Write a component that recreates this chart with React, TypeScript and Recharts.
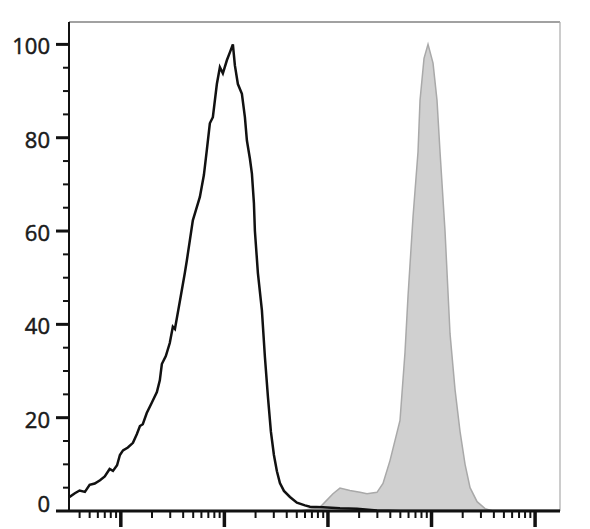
import { ComposedChart, Area, Line, XAxis, YAxis, ReferenceLine } from "recharts";

// fluorescence intensity (log axis) vs % of max
const controlX = [
  32, 36, 40, 45, 50, 56, 63, 70, 78, 84, 92, 98, 105, 117, 131, 143, 153, 163, 178, 199,
  223, 238, 249, 272, 297, 318, 333, 372, 415, 434, 464, 496, 531, 580, 634, 678, 724, 774,
  846, 905, 967, 1057, 1130, 1208, 1263, 1350, 1476, 1578, 1650, 1764, 1844, 1928, 1971,
  2107, 2303, 2462, 2632, 2813, 3008, 3215, 3437, 3758, 4296, 5017, 5995, 6700, 8946,
  13060, 19070, 29740, 49620, 1740000,
];
const controlY = [
  3.0, 3.8, 4.4, 4.1, 5.6, 5.9, 6.6, 7.4, 9.0, 8.6, 9.8, 12.0, 13.0, 13.6, 14.6, 16.5, 18.2,
  18.6, 21.0, 23.2, 25.5, 28.0, 31.5, 33.2, 36.0, 39.5, 39.0, 45.0, 51.0, 53.7, 58.0, 62.3,
  64.5, 67.3, 72.0, 77.5, 83.1, 84.4, 91.5, 95.1, 93.8, 96.6, 98.3, 100, 95.5, 91.5, 89.4,
  84.4, 79.4, 75.5, 72.3, 66.0, 60.0, 51.0, 43.0, 33.0, 24.5, 17.0, 12.0, 8.5, 6.0, 4.3,
  3.0, 1.8, 1.2, 0.9, 0.8, 0.6, 0.5, 0.1, 0, 0,
];

const stainedX = [
  5363, 8370, 9354, 11180, 13060, 16320, 20380, 23820, 29740, 34000, 39720, 49620, 55460,
  59290, 66270, 74070, 77440, 84650, 92520, 103400, 113000, 120800, 135000, 150900, 168700,
  188600, 210800, 235500, 275300, 328800, 392900,
];
const stainedY = [
  0, 0.8, 1.9, 3.7, 4.9, 4.4, 4.0, 3.7, 4.0, 5.9, 10.8, 19.4, 34, 46, 63, 77, 88, 97, 100,
  96, 88, 77, 60, 38, 26, 17, 10, 5, 2, 0.5, 0,
];

const xMajorTicks = [100, 1000, 10000, 100000, 1000000];
const xMinorTicks = [
  40, 50, 60, 70, 80, 90,
  200, 300, 400, 500, 600, 700, 800, 900,
  2000, 3000, 4000, 5000, 6000, 7000, 8000, 9000,
  20000, 30000, 40000, 50000, 60000, 70000, 80000, 90000,
  200000, 300000, 400000, 500000, 600000, 700000, 800000, 900000,
];
const yTicks = [0, 5, 10, 15, 20, 25, 30, 35, 40, 45, 50, 55, 60, 65, 70, 75, 80, 85, 90, 95, 100];
const yLabels = [0, 20, 40, 60, 80, 100];

const X_MIN = 31.6;
const X_MAX = 1740000;
const Y_MAX = 104.8;

const controlData = controlX.map((x, i) => ({ x, y: controlY[i] }));
const stainedData = stainedX.map((x, i) => ({ x, y: stainedY[i] }));
const xTicks = [...xMajorTicks, ...xMinorTicks].sort((a, b) => a - b);

const XTick = (props: any) => {
  const { x, y, payload } = props;
  const major = xMajorTicks.includes(payload.value);
  return (
    <line
      x1={x}
      x2={x}
      y1={y}
      y2={y + (major ? 16 : 7)}
      stroke="#111"
      strokeWidth={major ? 3.5 : 2}
    />
  );
};

const YTick = (props: any) => {
  const { x, y, payload } = props;
  const major = yLabels.includes(payload.value);
  return (
    <g>
      <line x1={x - (major ? 13 : 6)} x2={x} y1={y} y2={y} stroke="#111" strokeWidth={major ? 3 : 2} />
      {major && (
        <text
          x={x - 19}
          y={y}
          dy={payload.value === 0 ? 1 : 10}
          textAnchor="end"
          fontSize={22}
          fontFamily="'Open Sans', sans-serif"
          fill="#1a1a1a"
          stroke="#1a1a1a"
          strokeWidth={0.5}
        >
          {payload.value}
        </text>
      )}
    </g>
  );
};

export default function App() {
  return (
    <div style={{ position: "absolute", left: 0, top: 0, background: "#fff" }}>
      <ComposedChart width={590} height={529} margin={{ top: 22, right: 30, bottom: 0, left: 0 }}>
        <XAxis
          dataKey="x"
          type="number"
          scale="log"
          domain={[X_MIN, X_MAX]}
          allowDataOverflow
          ticks={xTicks}
          interval={0}
          tick={<XTick />}
          tickLine={false}
          tickSize={0}
          tickMargin={0}
          axisLine={{ stroke: "#111", strokeWidth: 3 }}
          height={18}
        />
        <YAxis
          type="number"
          domain={[0, Y_MAX]}
          allowDataOverflow
          ticks={yTicks}
          interval={0}
          tick={<YTick />}
          tickLine={false}
          tickSize={0}
          tickMargin={0}
          axisLine={{ stroke: "#111", strokeWidth: 2 }}
          width={69}
        />
        <ReferenceLine y={Y_MAX} stroke="#444" strokeWidth={1.2} />
        <ReferenceLine x={X_MAX} stroke="#aaa" strokeWidth={1.2} />
        <Area
          data={stainedData}
          dataKey="y"
          type="linear"
          fill="#d0d0d0"
          fillOpacity={1}
          stroke="#a9a9a9"
          strokeWidth={1.5}
          dot={false}
          isAnimationActive={false}
        />
        <Line
          data={controlData}
          dataKey="y"
          type="linear"
          stroke="#111"
          strokeWidth={2.5}
          dot={false}
          isAnimationActive={false}
        />
      </ComposedChart>
    </div>
  );
}
